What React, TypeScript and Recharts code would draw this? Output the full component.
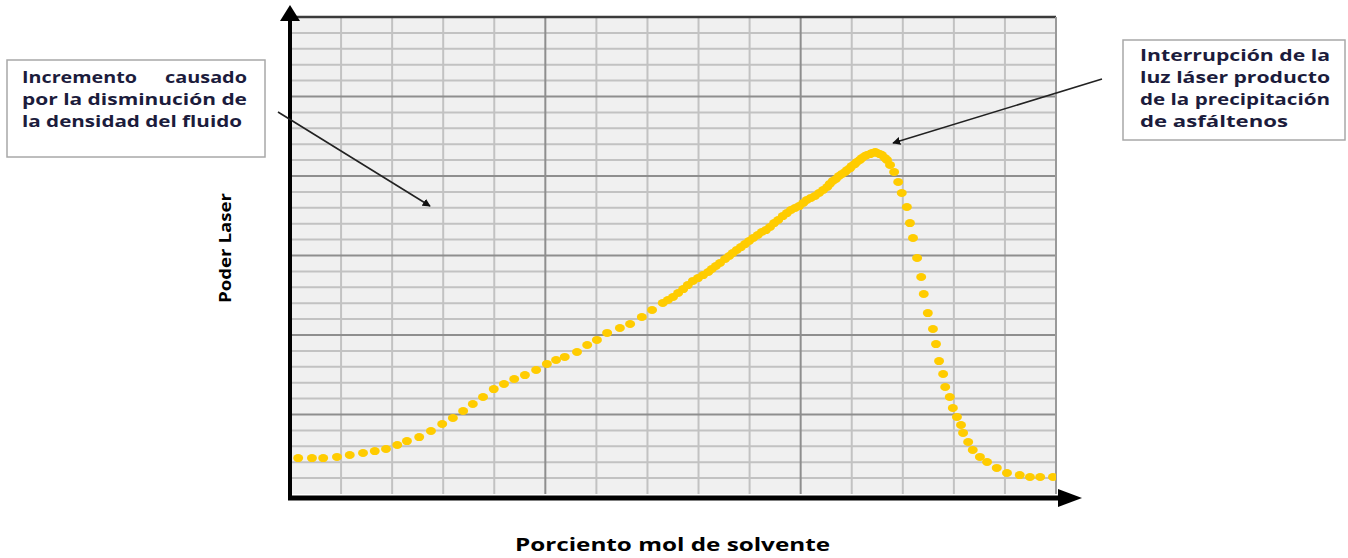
import React from "react";
import {
  ScatterChart,
  Scatter,
  XAxis,
  YAxis,
  ReferenceArea,
  ReferenceLine,
} from "recharts";

// Porciento mol de solvente (x) and Poder Laser (y)
const riseX = [0.16, 0.43, 0.65, 0.92, 1.17, 1.43, 1.66, 1.88, 2.1, 2.29, 2.53, 2.76, 2.98, 3.19, 3.39, 3.58, 3.78, 3.99, 4.19, 4.39, 4.6, 4.82, 5.03, 5.21, 5.38, 5.62, 5.82, 6.01, 6.21, 6.46, 6.66, 6.89, 7.09];
const riseY = [2.26, 2.26, 2.26, 2.33, 2.45, 2.58, 2.7, 2.83, 3.08, 3.33, 3.58, 3.96, 4.4, 4.78, 5.22, 5.66, 6.1, 6.6, 6.92, 7.23, 7.48, 7.8, 8.18, 8.43, 8.62, 8.93, 9.37, 9.69, 10.13, 10.44, 10.69, 11.13, 11.57];

const peakX = [7.3, 7.4, 7.5, 7.6, 7.7, 7.79, 7.89, 7.99, 8.09, 8.19, 8.26, 8.34, 8.42, 8.52, 8.6, 8.67, 8.75, 8.83, 8.91, 8.99, 9.07, 9.16, 9.24, 9.32, 9.4, 9.48, 9.56, 9.65, 9.73, 9.81, 9.89, 9.97, 10.05, 10.12, 10.2, 10.28, 10.36, 10.44, 10.52, 10.57, 10.63, 10.69, 10.75, 10.81, 10.87, 10.91, 10.97, 11.0, 11.06, 11.1, 11.16, 11.2, 11.26, 11.3, 11.36, 11.4, 11.46, 11.49, 11.55, 11.59, 11.65, 11.69];
const peakY = [12.01, 12.2, 12.39, 12.64, 12.89, 13.14, 13.4, 13.58, 13.77, 13.96, 14.15, 14.34, 14.53, 14.78, 14.97, 15.16, 15.35, 15.53, 15.72, 15.91, 16.1, 16.29, 16.48, 16.6, 16.79, 17.04, 17.23, 17.48, 17.67, 17.86, 17.99, 18.11, 18.3, 18.49, 18.62, 18.74, 18.93, 19.12, 19.31, 19.5, 19.69, 19.81, 20.0, 20.13, 20.25, 20.38, 20.5, 20.63, 20.75, 20.88, 21.01, 21.13, 21.26, 21.32, 21.38, 21.45, 21.51, 21.45, 21.38, 21.32, 21.13, 21.01];

const fallX = [11.75, 11.83, 11.91, 11.98, 12.08, 12.14, 12.2, 12.28, 12.36, 12.41, 12.49, 12.59, 12.65, 12.71, 12.79, 12.83, 12.92, 12.98, 13.06, 13.14, 13.18, 13.28, 13.37, 13.51, 13.65, 13.84, 14.04, 14.29, 14.49, 14.69, 14.94];
const fallY = [20.69, 20.25, 19.62, 18.93, 18.05, 17.04, 16.1, 14.84, 13.65, 12.58, 11.38, 10.38, 9.43, 8.36, 7.55, 6.73, 6.1, 5.41, 4.84, 4.34, 3.84, 3.27, 2.77, 2.33, 2.01, 1.64, 1.32, 1.19, 1.07, 1.07, 1.07];

// grid ticks
const xMinorTicks = [1, 2, 3, 4, 6, 7, 8, 9, 11, 12, 13, 14];
const yMinorTicks = [1, 2, 3, 4, 6, 7, 8, 9, 11, 12, 13, 14, 16, 17, 18, 19, 21, 22, 23, 24, 26, 27, 28, 29];
const xMajorTicks = [5, 10];
const yMajorTicks = [5, 10, 15, 20, 25];

const xLabel = "Porciento mol de solvente";
const yLabel = "Poder Laser";
const noteLeft = ["Incremento", "causado", "por la disminución de", "la densidad del fluido"];
const noteRight = ["Interrupción de la", "luz láser producto", "de la precipitación", "de asfáltenos"];

const toPoints = (xs: number[], ys: number[]) => xs.map((x, i) => ({ x, y: ys[i] }));
const data = [
  ...toPoints(riseX, riseY),
  ...toPoints(peakX, peakY),
  ...toPoints(fallX, fallY),
];

const Dot = (props: any) => {
  const { cx, cy } = props;
  if (cx == null || cy == null) return null;
  return <ellipse cx={cx} cy={cy} rx={5} ry={4} fill="#FFCC00" />;
};

const YArrowAxis = (props: any) => {
  const { x1, y1, y2 } = props;
  const top = Math.min(y1, y2);
  const bottom = Math.max(y1, y2);
  return (
    <g>
      <line x1={x1} y1={bottom + 6} x2={x1} y2={top - 4} stroke="#000" strokeWidth={4} />
      <polygon points={`${x1},${top - 12} ${x1 - 10},${top + 4} ${x1 + 10},${top + 4}`} fill="#000" />
    </g>
  );
};

const XArrowAxis = (props: any) => {
  const { x1, y1, x2 } = props;
  const left = Math.min(x1, x2);
  const right = Math.max(x1, x2);
  const y = y1 + 4;
  return (
    <g>
      <line x1={left - 2} y1={y} x2={right + 6} y2={y} stroke="#000" strokeWidth={5} />
      <polygon points={`${right + 26},${y} ${right + 2},${y - 9} ${right + 2},${y + 9}`} fill="#000" />
    </g>
  );
};

const noteStyle: React.CSSProperties = {
  fontFamily: "'Open Sans', sans-serif",
  fontWeight: 700,
  fontSize: 15.5,
  fill: "#1c1c3c",
};

export default function App() {
  return (
    <div style={{ position: "absolute", left: 0, top: 0, width: 1348, height: 558, background: "#fff" }}>
      <div style={{ position: "absolute", left: 0, top: 0 }}>
        <ScatterChart width={1348} height={558} margin={{ top: 17, right: 292, bottom: 64, left: 290 }}>
          <XAxis
            type="number"
            dataKey="x"
            domain={[0, 15]}
            ticks={[0, 5, 10, 15]}
            tick={false}
            tickLine={false}
            axisLine={false}
            height={0}
            allowDataOverflow
          />
          <YAxis
            type="number"
            dataKey="y"
            domain={[0, 30]}
            ticks={[0, 5, 10, 15, 20, 25, 30]}
            tick={false}
            tickLine={false}
            axisLine={false}
            width={0}
            allowDataOverflow
          />
          <ReferenceArea x1={0} x2={15} y1={0} y2={30} fill="#f0f0f0" fillOpacity={1} stroke="none" />
          {xMinorTicks.map((v) => (
            <ReferenceLine key={"mx" + v} x={v} stroke="#c2c2c2" strokeWidth={2} />
          ))}
          {yMinorTicks.map((v) => (
            <ReferenceLine key={"my" + v} y={v} stroke="#c2c2c2" strokeWidth={2} />
          ))}
          {xMajorTicks.map((v) => (
            <ReferenceLine key={"vx" + v} x={v} stroke="#8e8e8e" strokeWidth={2} />
          ))}
          {yMajorTicks.map((v) => (
            <ReferenceLine key={"hy" + v} y={v} stroke="#8e8e8e" strokeWidth={2} />
          ))}
          <ReferenceLine y={30} stroke="#3a3a3a" strokeWidth={2.5} />
          <ReferenceLine x={15} stroke="#9a9a9a" strokeWidth={2} />
          <Scatter data={data} fill="#FFCC00" shape={Dot} isAnimationActive={false} />
          <ReferenceLine
            segment={[{ x: 0, y: 0 }, { x: 15, y: 0 }]}
            ifOverflow="visible"
            shape={XArrowAxis}
          />
          <ReferenceLine
            segment={[{ x: 0, y: 0 }, { x: 0, y: 30 }]}
            ifOverflow="visible"
            shape={YArrowAxis}
          />
        </ScatterChart>
      </div>
      <svg
        width={1348}
        height={558}
        style={{ position: "absolute", left: 0, top: 0, pointerEvents: "none" }}
      >
        <defs>
          <marker id="ah" viewBox="0 0 10 10" refX="9" refY="5" markerWidth="5" markerHeight="5" orient="auto">
            <path d="M0,0 L10,5 L0,10 z" fill="#111" />
          </marker>
        </defs>
        {/* left note */}
        <rect x={7} y={60} width={258} height={97} fill="#fff" stroke="#a8a8a8" strokeWidth={1.5} />
        <text x={22} y={83} style={noteStyle} textLength={115} lengthAdjust="spacingAndGlyphs">{noteLeft[0]}</text>
        <text x={165} y={83} style={noteStyle} textLength={82} lengthAdjust="spacingAndGlyphs">{noteLeft[1]}</text>
        <text x={22} y={105} style={noteStyle} textLength={225} lengthAdjust="spacingAndGlyphs">{noteLeft[2]}</text>
        <text x={22} y={127} style={noteStyle} textLength={220} lengthAdjust="spacingAndGlyphs">{noteLeft[3]}</text>
        <line x1={278} y1={112} x2={430} y2={206} stroke="#222" strokeWidth={1.6} markerEnd="url(#ah)" />
        {/* right note */}
        <rect x={1123} y={40} width={222} height={100} fill="#fff" stroke="#a8a8a8" strokeWidth={1.5} />
        <text x={1140} y={61} style={noteStyle} textLength={190} lengthAdjust="spacingAndGlyphs">{noteRight[0]}</text>
        <text x={1140} y={83} style={noteStyle} textLength={190} lengthAdjust="spacingAndGlyphs">{noteRight[1]}</text>
        <text x={1140} y={105} style={noteStyle} textLength={190} lengthAdjust="spacingAndGlyphs">{noteRight[2]}</text>
        <text x={1140} y={127} style={noteStyle} textLength={148} lengthAdjust="spacingAndGlyphs">{noteRight[3]}</text>
        <line x1={1102} y1={79} x2={893} y2={143} stroke="#222" strokeWidth={1.6} markerEnd="url(#ah)" />
        {/* axis titles */}
        <text
          transform="translate(231,248) rotate(-90)"
          textAnchor="middle"
          textLength={110}
          lengthAdjust="spacingAndGlyphs"
          style={{ fontFamily: "'Open Sans', sans-serif", fontWeight: 700, fontSize: 16, fill: "#000" }}
        >
          {yLabel}
        </text>
        <text
          x={515}
          y={551}
          textLength={315}
          lengthAdjust="spacingAndGlyphs"
          style={{ fontFamily: "'Open Sans', sans-serif", fontWeight: 700, fontSize: 18, fill: "#000" }}
        >
          {xLabel}
        </text>
      </svg>
    </div>
  );
}
